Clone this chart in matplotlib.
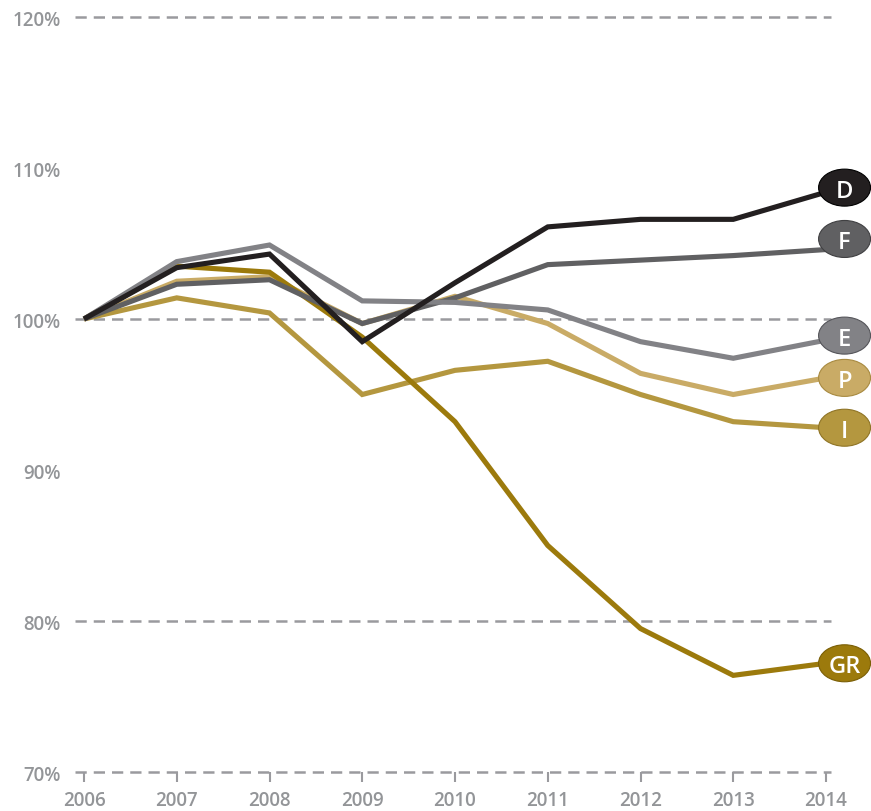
import matplotlib.pyplot as plt
from matplotlib.patches import Ellipse

plt.rcParams['font.family'] = ['Open Sans', 'DejaVu Sans']

years = [2006, 2007, 2008, 2009, 2010, 2011, 2012, 2013, 2014]

# index, 2006 = 100%
P = [100, 102.5, 102.8, 99.7, 101.5, 99.7, 96.4, 95.0, 96.1]
I = [100, 101.4, 100.4, 95.0, 96.6, 97.2, 95.0, 93.2, 92.8]
GR = [100, 103.5, 103.1, 98.8, 93.2, 85.0, 79.5, 76.4, 77.2]
F = [100, 102.3, 102.6, 99.7, 101.4, 103.6, 103.9, 104.2, 104.6]
E = [100, 103.8, 104.9, 101.2, 101.1, 100.6, 98.5, 97.4, 98.6]
D = [100, 103.4, 104.3, 98.5, 102.4, 106.1, 106.6, 106.6, 108.4]

series = [
    ("P", P, "#c9ab66", "#a88a40"),
    ("I", I, "#b4973f", "#8f7425"),
    ("GR", GR, "#9c7a0c", "#7a5e05"),
    ("F", F, "#606062", "#404042"),
    ("E", E, "#828286", "#55555a"),
    ("D", D, "#231f20", "#000000"),
]
label_shift = {"D": 0.3, "F": 0.7, "E": 0.3}

grid_color = "#9a9a9e"
text_color = "#939598"

fig = plt.figure(figsize=(8.71, 8.12), dpi=100)
ax = fig.add_axes([84 / 871, 39 / 812, (826 - 84) / 871, (773 - 18) / 812])
ax.set_xlim(2006, 2014)
ax.set_ylim(70, 120)

for v in [120, 100, 80, 70]:
    ax.plot([2005.9, 2014.05], [v, v], color=grid_color, lw=1.8,
            dashes=(4.5, 2.8), clip_on=False, zorder=1)

for name, vals, col, edge in series:
    ax.plot(years, vals, color=col, lw=3.7, solid_joinstyle="miter",
            solid_capstyle="butt", clip_on=False, zorder=3)
    ly = vals[-1] + label_shift.get(name, 0)
    ax.add_patch(Ellipse((2014.2, ly), 0.56, 2.45, facecolor=col, edgecolor=edge,
                         lw=0.8, clip_on=False, zorder=5))
    ax.text(2014.2, ly, name, color="white", fontsize=17, fontweight="semibold",
            ha="center", va="center_baseline", zorder=6)

for s in ax.spines.values():
    s.set_visible(False)

ax.set_yticks([70, 80, 90, 100, 110, 120])
ax.set_yticklabels([f"{v}%" for v in [70, 80, 90, 100, 110, 120]])
ax.tick_params(axis="y", length=0, pad=17, labelsize=13.5, labelcolor=text_color)
ax.set_xticks(years)
ax.set_xticklabels([str(y) for y in years])
ax.tick_params(axis="x", direction="out", length=7, width=1.5, color=grid_color,
               pad=6, labelsize=13.5, labelcolor=text_color)
for t in ax.get_xticklabels() + ax.get_yticklabels():
    t.set_fontweight("semibold")

fig.savefig("out.png", dpi=100)
